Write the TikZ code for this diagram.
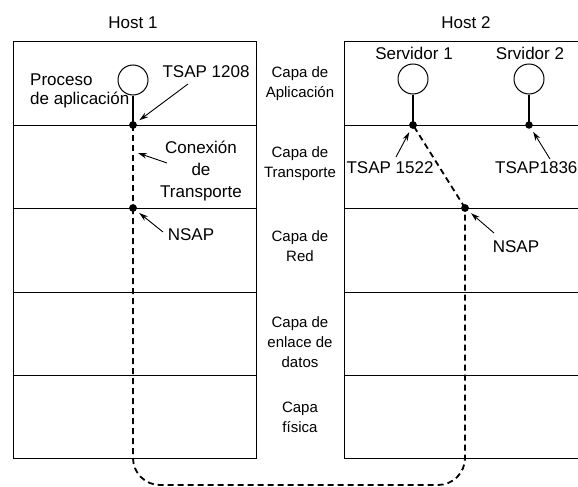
\documentclass[tikz,border=0pt]{standalone}
\usepackage{fontspec}
\setmainfont{Liberation Sans}
\usetikzlibrary{arrows.meta}
\begin{document}
\begin{tikzpicture}[x=1pt,y=-1pt,
  dot/.style={circle,fill,inner sep=0pt,minimum size=7.5pt},
  proc/.style={circle,draw,line width=1pt,inner sep=0pt,minimum size=30pt},
  lbl/.style={font=\fontsize{17}{21}\selectfont,inner sep=0pt},
  laycap/.style={font=\fontsize{15}{20}\selectfont,align=center,inner sep=0pt},
  box/.style={line width=1pt},
  stem/.style={line width=2pt},
  conn/.style={line width=1.8pt,dash pattern=on 6pt off 4pt},
  ptr/.style={-{Stealth[length=9pt,width=5.5pt]},line width=0.9pt,shorten >=4pt}]
\clip (0,0) rectangle (578,487);
% host boxes
\draw[box] (13,42) rectangle (256,458);
\foreach \y in {125,208,292,375} \draw[box] (13,\y) -- (256,\y);
\draw[box] (344,42) rectangle (600,458);
\foreach \y in {125,208,292,375} \draw[box] (344,\y) -- (600,\y);
% titles
\node[lbl] (h1) at (133,23) {Host 1};
\node[lbl] (h2) at (466,23) {Host 2};
% layer names
\node[laycap] (c1) at (300,84) {Capa de\\Aplicación};
\node[laycap] (c2) at (300,164) {Capa de\\Transporte};
\node[laycap] (c3) at (300,246) {Capa de\\Red};
\node[laycap] (c4) at (300,342) {Capa de\\enlace de\\datos};
\node[laycap] (c5) at (300,417) {Capa\\física};
% processes
\node[proc] (p1) at (133,80) {};
\node[proc] (s1) at (413,79) {};
\node[proc] (s2) at (529,79) {};
\node[dot] (d1) at (133,125) {};
\node[dot] (d2) at (133,208) {};
\node[dot] (d3) at (413,125) {};
\node[dot] (d4) at (465,208) {};
\node[dot] (d5) at (529,125) {};
\draw[stem] (p1.south) -- (d1.center);
\draw[stem] (s1.south) -- (d3.center);
\draw[stem] (s2.south) -- (d5.center);
% transport connection
\draw[conn] (d1.center) -- (d2.center);
\draw[conn,rounded corners=27pt] (d2.center) -- (133,485) -- (465,485) -- (d4.center);
\draw[conn] (d4.center) -- (d3.center);
\node[dot] at (d1) {};
\node[dot] at (d2) {};
\node[dot] at (d3) {};
\node[dot] at (d4) {};
% labels
\node[lbl,align=left,anchor=west,font=\fontsize{17}{19}\selectfont] (proc) at (30,91) {Proceso\\de aplicación};
\node[lbl] (t1208) at (206,72) {TSAP 1208};
\node[lbl,align=center,font=\fontsize{17}{22}\selectfont] (conx) at (201,171) {Conexión\\de\\Transporte};
\node[lbl] (n1) at (191,235) {NSAP};
\node[lbl] (s1l) at (414,53) {Servidor 1};
\node[lbl] (s2l) at (530,53) {Srvidor 2};
\node[lbl] (t1522) at (390,168) {TSAP 1522};
\node[lbl,anchor=west] (t1836) at (495,168) {TSAP1836};
\node[lbl] (n2) at (516,247) {NSAP};
% pointers
\coordinate (a1) at (188,84);
\coordinate (a2) at (167,163);
\coordinate (a2t) at (138,153);
\coordinate (a3) at (163,232);
\coordinate (a4) at (396,157);
\coordinate (a5) at (550,159);
\coordinate (a6) at (494,233);
\draw[ptr] (a1) -- (d1);
\draw[ptr,shorten >=0pt] (a2) -- (a2t);
\draw[ptr] (a3) -- (d2);
\draw[ptr] (a4) -- (d3);
\draw[ptr] (a5) -- (d5);
\draw[ptr] (a6) -- (d4);
\end{tikzpicture}
\end{document}
